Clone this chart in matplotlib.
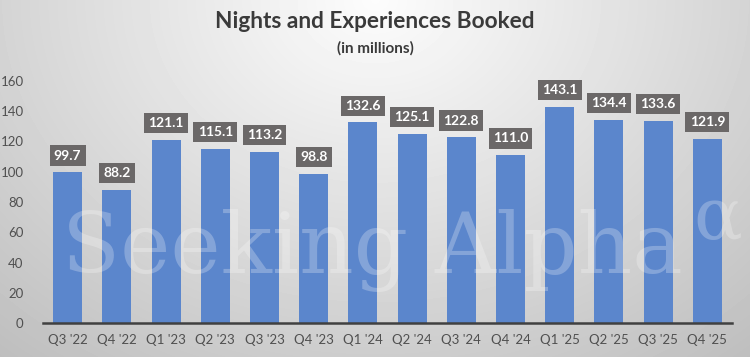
import numpy as np
import matplotlib
matplotlib.use("Agg")
import matplotlib.pyplot as plt

quarters = ["Q3 '22", "Q4 '22", "Q1 '23", "Q2 '23", "Q3 '23", "Q4 '23", "Q1 '24",
            "Q2 '24", "Q3 '24", "Q4 '24", "Q1 '25", "Q2 '25", "Q3 '25", "Q4 '25"]
booked = [99.7, 88.2, 121.1, 115.1, 113.2, 98.8, 132.6,
          125.1, 122.8, 111.0, 143.1, 134.4, 133.6, 121.9]
yticks = [0, 20, 40, 60, 80, 100, 120, 140, 160]

plt.rcParams['font.family'] = ['Lato', 'DejaVu Sans']

fig = plt.figure(figsize=(7.5, 3.57), dpi=100)

# background: light at top centre, grey towards the bottom and sides
bg = fig.add_axes([0, 0, 1, 1], zorder=-1)
yy, xx = np.mgrid[0:357, 0:750]
r = np.sqrt(((xx - 375) / 520.0) ** 2 + ((yy - 0) / 420.0) ** 2)
shade = np.clip(0.99 - 0.22 * r, 0.72, 0.99)
bg.imshow(shade, cmap='gray', vmin=0, vmax=1, aspect='auto', interpolation='bilinear')
bg.axis('off')

ax = fig.add_axes([43 / 750, 34 / 357, 689 / 750, 242 / 357])
ax.set_facecolor('none')

x = np.arange(len(quarters))
ax.bar(x, booked, width=0.59, color='#5b86cc', zorder=2)

for xi, v in zip(x, booked):
    ax.annotate(f"{v:.1f}", (xi, v), xytext=(0, 12), textcoords='offset points',
                ha='center', va='center', color='white', fontsize=10, fontweight='bold',
                bbox=dict(boxstyle='square,pad=0.3', fc='#6b6868', ec='none'), zorder=4)

ax.set_xlim(-0.5, len(quarters) - 0.5)
ax.set_ylim(0, 160)
ax.set_yticks(yticks)
ax.set_xticks(x)
ax.set_xticklabels(quarters)
ax.tick_params(axis='both', length=0, labelsize=9.5, colors='#505050')
ax.tick_params(axis='x', pad=8)
ax.tick_params(axis='y', pad=14)
for s in ['top', 'right', 'left']:
    ax.spines[s].set_visible(False)
ax.spines['bottom'].set_color('#404040')
ax.spines['bottom'].set_linewidth(1.8)
ax.spines['bottom'].set_zorder(3)

# watermark
fig.text(0.082, 0.235, "Seeking Alpha", fontsize=61, family='DejaVu Serif',
         color='white', alpha=0.25, ha='left', va='baseline', zorder=5)
fig.text(0.99, 0.33, "\u03b1", fontsize=52, family='DejaVu Serif',
         color='white', alpha=0.25, ha='right', va='baseline', zorder=5)

fig.text(0.5, 1 - 22 / 357, "Nights and Experiences Booked", ha='center', va='center',
         fontsize=16.3, fontweight='bold', color='#3a3a3a')
fig.text(0.5, 1 - 48 / 357, "(in millions)", ha='center', va='center',
         fontsize=11, fontweight='bold', color='#3a3a3a')

fig.savefig('out.png', dpi=100)
